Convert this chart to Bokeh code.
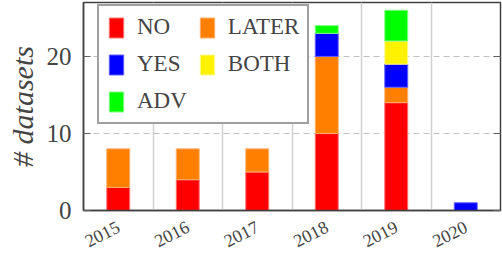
from bokeh.plotting import figure
from bokeh.models import FixedTicker, Legend, LegendItem, LinearAxis, Range1d
from bokeh.embed import file_html
from bokeh.resources import INLINE

years = ["2015", "2016", "2017", "2018", "2019", "2020"]
no_vals = [3, 4, 5, 10, 14, 0]
later_vals = [5, 4, 3, 10, 2, 0]
yes_vals = [0, 0, 0, 3, 3, 1]
both_vals = [0, 0, 0, 0, 3, 0]
adv_vals = [0, 0, 0, 1, 4, 0]
series_names = ["NO", "LATER", "YES", "BOTH", "ADV"]
y_ticks = [0, 10, 20]

fills = ["#ff0000", "#ff8000", "#0000ff", "#fff200", "#00ff00"]
edges = ["#ff7070", "#ffb070", "#6060ff", "#fff890", "#80ff80"]

SERIF = "Liberation Serif"

p = figure(width=502, height=256, output_backend="svg", toolbar_location=None,
           x_range=Range1d(-0.5, len(years) - 0.5), y_range=Range1d(0, 27))
p.min_border_left = 83
p.min_border_right = 2
p.min_border_top = 2
p.min_border_bottom = 45
p.outline_line_color = "#404040"
p.outline_line_width = 1.5

xs_all = list(range(len(years)))
bottom = [0] * len(years)
items = {}
for name, vals, fc, lc in zip(series_names,
                              [no_vals, later_vals, yes_vals, both_vals, adv_vals],
                              fills, edges):
    xs, bs, ts = [], [], []
    for i, v in enumerate(vals):
        if v > 0:
            xs.append(i)
            bs.append(bottom[i])
            ts.append(bottom[i] + v)
        bottom[i] += v
    r = p.vbar(x=xs, bottom=bs, top=ts, width=0.33, fill_color=fc,
               line_color=lc, line_width=1)
    items[name] = LegendItem(label=name, renderers=[r])

# x axis
xa = p.xaxis[0]
xa.ticker = FixedTicker(ticks=xs_all)
xa.major_label_overrides = {i: y for i, y in enumerate(years)}
xa.major_label_orientation = 0.47
xa.major_label_text_font = SERIF
xa.major_label_text_font_size = "18px"
xa.major_tick_in = 0
xa.major_tick_out = 0
xa.minor_tick_line_color = None
xa.axis_line_color = "#404040"
xa.axis_line_width = 1.5
xa.major_label_standoff = 15

# y axis
ya = p.yaxis[0]
ya.ticker = FixedTicker(ticks=y_ticks)
ya.major_label_text_font = SERIF
ya.major_label_text_font_size = "25px"
ya.major_tick_in = 7
ya.major_tick_out = 0
ya.major_tick_line_color = "#606060"
ya.minor_tick_line_color = None
ya.axis_line_color = "#404040"
ya.axis_line_width = 1.5
ya.major_label_standoff = 12
ya.axis_label = "# datasets"
ya.axis_label_text_font = SERIF
ya.axis_label_text_font_style = "italic"
ya.axis_label_text_font_size = "30px"
ya.axis_label_standoff = 5

ra = LinearAxis(ticker=FixedTicker(ticks=y_ticks),
                major_label_overrides={t: "" for t in y_ticks},
                major_tick_in=7, major_tick_out=0, major_label_standoff=0,
                axis_line_color=None, minor_tick_line_color=None,
                major_tick_line_color="#606060")
p.add_layout(ra, "right")

# grids
p.xgrid.ticker = FixedTicker(ticks=[i + 0.5 for i in xs_all[:-1]])
p.xgrid.grid_line_color = "#d0d0d0"
p.xgrid.grid_line_width = 1.5
p.ygrid.ticker = FixedTicker(ticks=y_ticks[1:])
p.ygrid.grid_line_color = "#c0c0c0"
p.ygrid.grid_line_dash = "6 4"
p.ygrid.grid_line_width = 1

# legend filled column-major: order so rows read NO LATER / YES BOTH / ADV
legend_order = ["NO", "YES", "ADV", "LATER", "BOTH"]
legend = Legend(items=[items[n] for n in legend_order], location=(14, 86), ncols=2,
                glyph_width=18, glyph_height=25,
                label_text_font=SERIF, label_text_font_size="23px",
                label_standoff=12, label_width=43, spacing=11, padding=8,
                border_line_color="#404040", border_line_width=2,
                background_fill_alpha=1.0, margin=0)
p.add_layout(legend)

open("out.html", "w").write(file_html(p, INLINE))
